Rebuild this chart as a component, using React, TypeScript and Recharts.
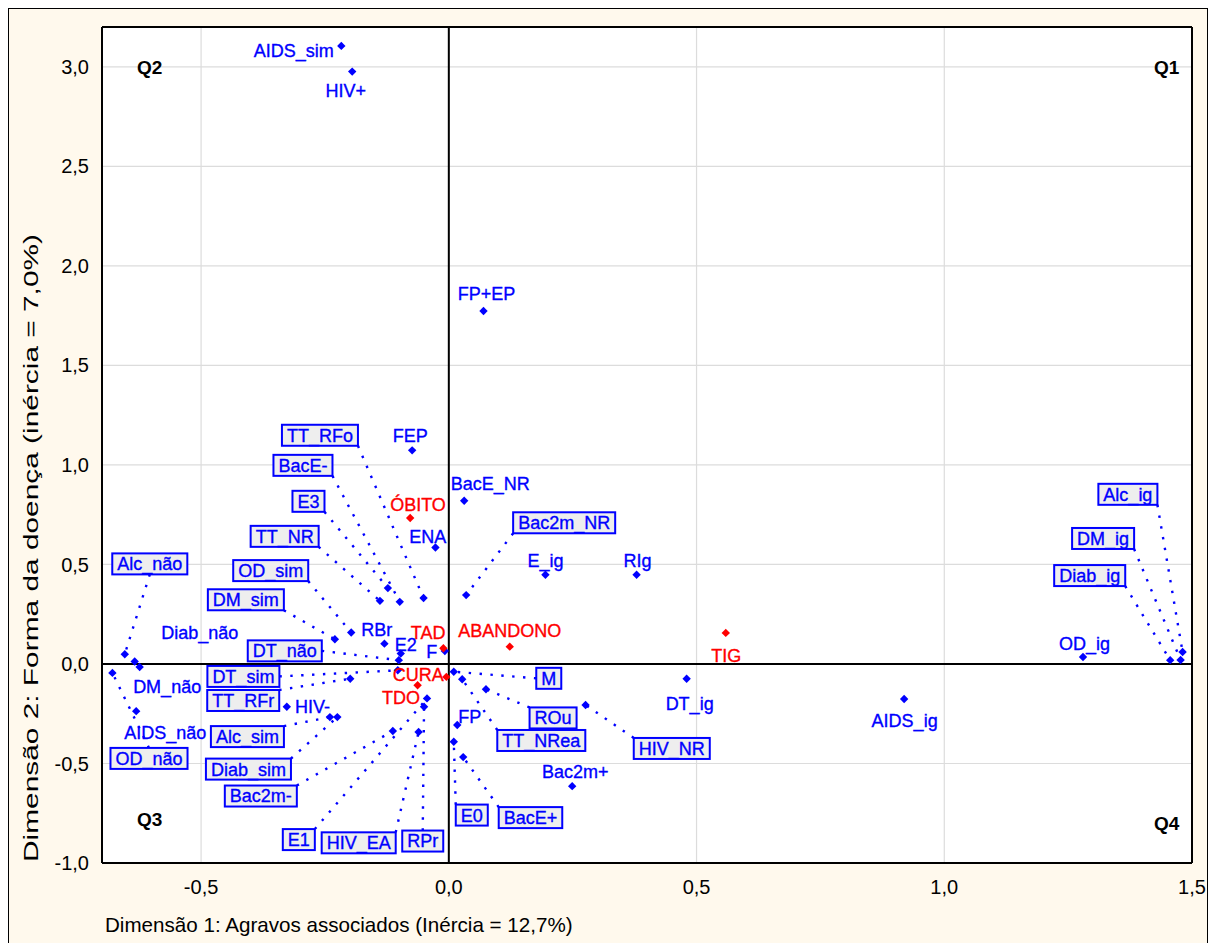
import React from 'react';
import { ScatterChart, Scatter, XAxis, YAxis, CartesianGrid, ReferenceLine } from 'recharts';

// ---------- data ----------
const varNames = ['AIDS_sim','HIV+','FP+EP','FEP','BacE_NR','ENA','Bac2m_NR','TT_RFo','BacE-','E3','TT_NR','E_ig','RIg','OD_sim','DM_sim','RBr','E2','DT_não','F','DT_sim','TT_RFr','HIV-','Alc_sim','Diab_sim','Bac2m-','E1','HIV_EA','RPr','M','TT_NRea','ROu','FP','E0','BacE+','Bac2m+','HIV_NR','DT_ig','AIDS_ig','OD_ig','Diab_ig','DM_ig','Alc_ig','Alc_não','Diab_não','DM_não','OD_não','AIDS_não'];
const varDim1 = [-0.217,-0.195,0.070,-0.074,0.031,-0.027,0.035,-0.051,-0.099,-0.123,-0.139,0.195,0.379,-0.197,-0.230,-0.130,-0.097,-0.101,-0.008,-0.103,-0.199,-0.327,-0.240,-0.225,-0.113,-0.044,-0.061,-0.050,0.010,0.027,0.075,0.017,0.010,0.029,0.249,0.276,0.480,0.919,1.280,1.456,1.477,1.481,-0.654,-0.634,-0.624,-0.679,-0.631];
const varDim2 = [3.105,2.976,1.773,1.073,0.820,0.585,0.346,0.331,0.312,0.381,0.317,0.448,0.448,0.158,0.124,0.102,0.052,0.019,0.065,-0.032,-0.074,-0.215,-0.267,-0.267,-0.337,-0.173,-0.342,-0.215,-0.039,-0.077,-0.127,-0.307,-0.391,-0.468,-0.614,-0.206,-0.074,-0.176,0.035,0.019,0.020,0.060,0.049,0.012,-0.015,-0.045,-0.237];

const outNames = ['ÓBITO','TAD','ABANDONO','TIG','CURA','TDO'];
const outDim1 = [-0.078,-0.011,0.123,0.559,-0.005,-0.063];
const outDim2 = [0.733,0.079,0.087,0.156,-0.065,-0.107];

const quadNames = ['Q1','Q2','Q3','Q4'];
const quadDim1 = [1.449,-0.604,-0.604,1.449];
const quadDim2 = [3.0,3.0,-0.78,-0.80];

const xMajorTicks = [-0.5,0,0.5,1.0,1.5];
const yMajorTicks = [-1.0,-0.5,0,0.5,1.0,1.5,2.0,2.5,3.0];
const xMinorTicks = [-0.7,-0.6,-0.5,-0.4,-0.3,-0.2,-0.1,0,0.1,0.2,0.3,0.4,0.5,0.6,0.7,0.8,0.9,1.0,1.1,1.2,1.3,1.4,1.5];
const yMinorTicks = [-1.0,-0.9,-0.8,-0.7,-0.6,-0.5,-0.4,-0.3,-0.2,-0.1,0,0.1,0.2,0.3,0.4,0.5,0.6,0.7,0.8,0.9,1.0,1.1,1.2,1.3,1.4,1.5,1.6,1.7,1.8,1.9,2.0,2.1,2.2,2.3,2.4,2.5,2.6,2.7,2.8,2.9,3.0,3.1,3.2];
// opposite (top / right) frame axes use their own divisions
const topTicks = [0,1,2,3,4,5,6,7,8,9,10,11,12,13,14,15,16,17,18,19,20,21,22,23,24,25,26,27,28,29,30];
const rightTicks = [0,1,2,3,4,5,6,7,8,9,10,11,12,13,14,15,16,17,18,19,20,21,22,23,24,25,26,27,28,29,30,31,32,33,34,35,36,37,38,39,40,41,42,43,44,45];

const xTitle = 'Dimensão 1: Agravos associados (Inércia = 12,7%)';
const yTitle = 'Dimensão 2: Forma da doença (inércia = 7,0%)';

// ---------- label layout (pixel offsets from marker; box = framed label with leader) ----------
type Lay = { dx: number; dy: number; box?: boolean };
const labelLayout: Record<string, Lay> = {
  'AIDS_sim': { dx: -47.5, dy: 4.3 }, 'HIV+': { dx: -6.5, dy: 18.6 }, 'FP+EP': { dx: 3, dy: -17.7 },
  'FEP': { dx: -2, dy: -14.7 }, 'BacE_NR': { dx: 26, dy: -17 }, 'ENA': { dx: -7.8, dy: -10.7 },
  'Bac2m_NR': { dx: 98, dy: -72.3, box: true }, 'TT_RFo': { dx: -103.6, dy: -162.8, box: true },
  'BacE-': { dx: -96.8, dy: -136.5, box: true }, 'E3': { dx: -79.4, dy: -86.8, box: true },
  'TT_NR': { dx: -95.3, dy: -64.5, box: true }, 'E_ig': { dx: 0, dy: -14 }, 'RIg': { dx: 1, dy: -14 },
  'OD_sim': { dx: -80.5, dy: -61.9, box: true }, 'DM_sim': { dx: -89, dy: -39.5, box: true },
  'RBr': { dx: -7.6, dy: -13.7 }, 'E2': { dx: 5, dy: -9.4 }, 'DT_não': { dx: -114, dy: -9.3, box: true },
  'F': { dx: -13, dy: 1 }, 'DT_sim': { dx: -154.4, dy: 6.1, box: true }, 'TT_RFr': { dx: -107, dy: 21.8, box: true },
  'HIV-': { dx: 25.8, dy: 0 }, 'Alc_sim': { dx: -82.5, dy: 19.5, box: true }, 'Diab_sim': { dx: -88.9, dy: 52, box: true },
  'Bac2m-': { dx: -132, dy: 65, box: true }, 'E1': { dx: -128.2, dy: 141.2, box: true },
  'HIV_EA': { dx: -59.9, dy: 110.8, box: true }, 'RPr': { dx: -1.3, dy: 134.3, box: true },
  'M': { dx: 95, dy: 6.6, box: true }, 'TT_NRea': { dx: 79.1, dy: 61.2, box: true }, 'ROu': { dx: 67.1, dy: 28.7, box: true },
  'FP': { dx: 12.5, dy: -9 }, 'E0': { dx: 18, dy: 73.3, box: true }, 'BacE+': { dx: 67.3, dy: 60.5, box: true },
  'Bac2m+': { dx: 3, dy: -15 }, 'HIV_NR': { dx: 86.2, dy: 43.5, box: true }, 'DT_ig': { dx: 3, dy: 25 },
  'AIDS_ig': { dx: 0.5, dy: 22 }, 'OD_ig': { dx: 1.6, dy: -13 }, 'Diab_ig': { dx: -80.5, dy: -84.6, box: true },
  'DM_ig': { dx: -77.5, dy: -121.5, box: true }, 'Alc_ig': { dx: -54.7, dy: -157.7, box: true },
  'Alc_não': { dx: 25, dy: -90.3, box: true }, 'Diab_não': { dx: 65, dy: -29 }, 'DM_não': { dx: 27.5, dy: 20 },
  'OD_não': { dx: 36.6, dy: 85.5, box: true }, 'AIDS_não': { dx: 29, dy: 21.7 },
  'ÓBITO': { dx: 7.8, dy: -13.8 }, 'TAD': { dx: -15.3, dy: -16 }, 'ABANDONO': { dx: 0, dy: -15.7 },
  'TIG': { dx: 0.5, dy: 23 }, 'CURA': { dx: -28, dy: -2.7 }, 'TDO': { dx: -16.5, dy: 12 },
};

// ---------- styles ----------
const FONT = "'Liberation Sans', Arial, Helvetica, sans-serif";
const BLUE = '#0000FF';
const RED = '#FF0000';
const LABEL_SIZE = 18;
const BOX_H = 21;
const BOX_PAD = 5;
const CAP_HALF = LABEL_SIZE * 0.716 / 2;

const varData = varNames.map((n, i) => ({ x: varDim1[i], y: varDim2[i], name: n, color: BLUE }));
const outData = outNames.map((n, i) => ({ x: outDim1[i], y: outDim2[i], name: n, color: RED }));
const allData = [...varData, ...outData];
const quadData = quadNames.map((n, i) => ({ x: quadDim1[i], y: quadDim2[i], name: n }));
const frameData = [{ x: 0, y: 0 }, { x: 30, y: 45 }];

let ctx: CanvasRenderingContext2D | null = null;
function measure(text: string): number {
  if (!ctx) ctx = document.createElement('canvas').getContext('2d');
  if (!ctx) return text.length * LABEL_SIZE * 0.55;
  ctx.font = `${LABEL_SIZE}px ${FONT}`;
  return ctx.measureText(text).width;
}

function boxRect(cx: number, cy: number, name: string) {
  const lay = labelLayout[name];
  const w = measure(name) + 2 * BOX_PAD;
  const x0 = cx + lay.dx - w / 2;
  const y0 = cy + lay.dy - BOX_H / 2;
  return { x0, y0, x1: x0 + w, y1: y0 + BOX_H };
}

const LeaderShape = (props: any) => {
  const { cx, cy, payload } = props;
  const lay = labelLayout[payload.name];
  if (!lay || !lay.box) return <g />;
  const r = boxRect(cx, cy, payload.name);
  const mx = (r.x0 + r.x1) / 2, my = (r.y0 + r.y1) / 2;
  const ax = cx < r.x0 ? r.x0 : cx > r.x1 ? r.x1 : mx;
  const ay = cy < r.y0 ? r.y0 : cy > r.y1 ? r.y1 : my;
  return <line x1={ax} y1={ay} x2={cx} y2={cy} stroke={payload.color} strokeWidth={2.4} strokeDasharray="2.4 8.5" />;
};

const MarkerShape = (props: any) => {
  const { cx, cy, payload } = props;
  const s = 4.2;
  return <path d={`M${cx},${cy - s}L${cx + s},${cy}L${cx},${cy + s}L${cx - s},${cy}Z`} fill={payload.color} />;
};

const textStyle = (color: string) => ({ fill: color, fontSize: LABEL_SIZE, fontFamily: FONT, stroke: color, strokeWidth: 0.35 });

const LabelShape = (props: any) => {
  const { cx, cy, payload } = props;
  const lay = labelLayout[payload.name];
  if (!lay) return <g />;
  const tx = cx + lay.dx, ty = cy + lay.dy + CAP_HALF;
  if (lay.box) {
    const r = boxRect(cx, cy, payload.name);
    return (
      <g>
        <rect x={r.x0} y={r.y0} width={r.x1 - r.x0} height={BOX_H} fill="#EEEEEE" stroke={payload.color} strokeWidth={2} />
        <text x={tx} y={ty} textAnchor="middle" style={textStyle(payload.color)}>{payload.name}</text>
      </g>
    );
  }
  return <text x={tx} y={ty} textAnchor="middle" style={textStyle(payload.color)}>{payload.name}</text>;
};

const QuadShape = (props: any) => {
  const { cx, cy, payload } = props;
  return <text x={cx} y={cy + 19 * 0.716 / 2} textAnchor="middle" fill="#000" fontSize={19} fontWeight="bold" fontFamily={FONT}>{payload.name}</text>;
};

const NoShape = () => <g />;

const fmt = (v: number) => v.toFixed(1).replace('.', ',');

export default function App() {
  const W = 1198, H = 934;
  const tl = { stroke: '#000', strokeWidth: 1.4 };
  return (
    <div style={{ position: 'relative', width: 1200, height: 960, boxSizing: 'border-box', border: '1px solid #000', background: '#FFF9ED', fontFamily: FONT }}>
      <ScatterChart width={W} height={H} margin={{ top: 18, left: 92, right: 15, bottom: 79 }}>
        <CartesianGrid stroke="#DCDCDC" strokeWidth={1.2} fill="#FFFFFF" fillOpacity={1} />
        <XAxis type="number" dataKey="x" domain={[-0.7, 1.5]} ticks={xMajorTicks} allowDataOverflow
          tickFormatter={fmt} tickLine={false} tickSize={0} tickMargin={17} height={1}
          axisLine={{ stroke: '#000', strokeWidth: 2 }} tick={{ fill: '#000', fontSize: 20, fontFamily: FONT }} />
        <XAxis xAxisId="bt" type="number" dataKey="x" domain={[-0.7, 1.5]} ticks={xMinorTicks} allowDataOverflow
          mirror tick={false} tickSize={4} height={1} axisLine={false} tickLine={tl} />
        <XAxis xAxisId="tp" orientation="top" type="number" dataKey="x" domain={[0, 30]} ticks={topTicks} allowDataOverflow
          mirror tick={false} tickSize={4} height={1} axisLine={{ stroke: '#000', strokeWidth: 2 }} tickLine={tl} />
        <YAxis type="number" dataKey="y" domain={[-1.0, 3.2]} ticks={yMajorTicks} allowDataOverflow
          tickFormatter={fmt} tickLine={false} tickSize={0} tickMargin={13} width={1}
          axisLine={{ stroke: '#000', strokeWidth: 2 }} tick={{ fill: '#000', fontSize: 20, fontFamily: FONT }} />
        <YAxis yAxisId="lt" type="number" dataKey="y" domain={[-1.0, 3.2]} ticks={yMinorTicks} allowDataOverflow
          mirror tick={false} tickSize={4} width={1} axisLine={false} tickLine={tl} />
        <YAxis yAxisId="rt" orientation="right" type="number" dataKey="y" domain={[0, 45]} ticks={rightTicks} allowDataOverflow
          mirror tick={false} tickSize={4} width={1} axisLine={{ stroke: '#000', strokeWidth: 2 }} tickLine={tl} />
        <ReferenceLine x={0} stroke="#000" strokeWidth={2} />
        <ReferenceLine y={0} stroke="#000" strokeWidth={2} />
        <Scatter data={frameData} xAxisId="tp" yAxisId="rt" shape={NoShape} isAnimationActive={false} />
        <Scatter data={allData} xAxisId="bt" yAxisId="lt" shape={LeaderShape} isAnimationActive={false} />
        <Scatter data={allData} shape={MarkerShape} isAnimationActive={false} />
        <Scatter data={allData} shape={LabelShape} isAnimationActive={false} />
        <Scatter data={quadData} shape={QuadShape} isAnimationActive={false} />
      </ScatterChart>
      <svg width={1198} height={940} style={{ position: 'absolute', left: 0, top: 0, pointerEvents: 'none' }}>
        <text x={96} y={916 + 7.4} fontSize={20.6} fontFamily={FONT} fill="#000">{xTitle}</text>
        <text x={29} y={853} fontSize={21} fontFamily={FONT} fill="#000" textLength={628} lengthAdjust="spacingAndGlyphs"
          transform="rotate(-90 29 853)">{yTitle}</text>
      </svg>
    </div>
  );
}
